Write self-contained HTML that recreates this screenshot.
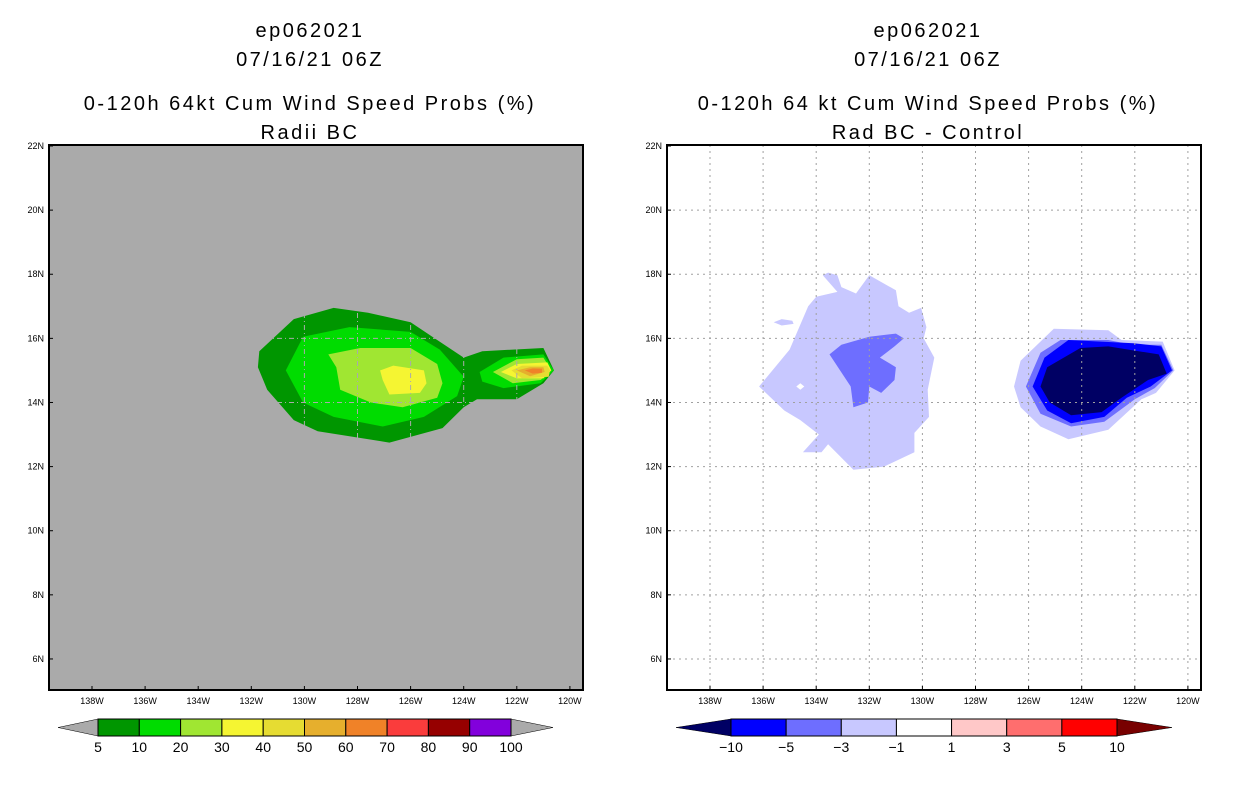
<!DOCTYPE html>
<html><head><meta charset="utf-8"><style>
body{margin:0;background:#fff;width:1236px;height:800px;overflow:hidden}
svg{display:block}
text{font-family:"Liberation Sans",sans-serif}
</style></head><body>
<svg id="chart" width="1236" height="800" viewBox="0 0 1236 800"></svg>
<script>
// ---- data ----
const latTicks=[22,20,18,16,14,12,10,8,6];
const lonTicks=[138,136,134,132,130,128,126,124,122,120];
const leftLevels=['5','10','20','30','40','50','60','70','80','90','100'];
const leftColors=['#009600','#00dc00','#a0e632','#f5f532','#e6dc32','#e6af2d','#f08228','#fa3c3c','#960000','#8200dc'];
const rightLevels=['\u221210','\u22125','\u22123','\u22121','1','3','5','10'];
const rightColors=['#000064','#0000ff','#6e6eff','#c8c8ff','#ffffff','#ffc8c8','#ff6e6e','#ff0000','#780000'];
// left contour polygons [lonW, lat]
const lOuter=[[131.7,15.6],[130.4,16.6],[128.9,16.95],[127.6,16.8],[126.0,16.5],[125.0,15.95],[124.0,15.4],[123.3,15.6],[121.0,15.7],[120.6,15.0],[121.0,14.6],[122.0,14.1],[123.5,14.1],[124.0,13.85],[124.8,13.2],[126.8,12.75],[129.5,13.1],[130.4,13.45],[131.4,14.4],[131.75,15.1]];
const lTen=[[130.7,15.0],[130.05,16.05],[128.3,16.35],[126.0,16.2],[124.9,15.65],[124.0,14.8],[124.25,14.2],[125.5,13.55],[127.05,13.25],[128.9,13.55],[130.05,14.0]];
const lTenLobe=[[123.4,14.95],[122.5,15.4],[121.0,15.5],[120.6,15.0],[121.1,14.6],[122.5,14.45],[123.3,14.65]];
const lTwenty=[[129.1,15.5],[127.9,15.7],[126.0,15.7],[125.0,15.2],[124.8,14.6],[125.0,14.15],[126.3,13.85],[127.5,14.0],[128.65,14.4],[128.8,15.1]];
const lTwentyLobe=[[122.9,14.95],[122.0,15.35],[121.0,15.4],[120.7,15.0],[121.1,14.7],[122.15,14.6]];
const lThirty=[[127.15,15.0],[126.65,15.15],[125.5,15.0],[125.4,14.6],[125.65,14.3],[126.8,14.25],[127.05,14.7]];
const lThirtyLobe=[[122.6,14.95],[122.0,15.2],[120.85,15.25],[120.7,15.0],[121.0,14.75],[122.0,14.75]];
const lFortyLobe=[[122.2,15.0],[121.8,15.15],[120.85,15.15],[120.75,15.0],[120.8,14.8],[121.8,14.75]];
const lFiftyLobe=[[122.0,15.0],[121.5,15.1],[121.0,15.1],[120.95,14.95],[121.5,14.82]];
const lSixtyLobe=[[121.7,15.0],[121.4,15.06],[121.05,15.05],[121.05,14.93],[121.4,14.9]];
// right contour polygons
const rWest=[[136.15,14.5],[135.0,15.65],[134.3,17.0],[134.0,17.3],[133.2,17.45],[133.75,17.97],[133.55,18.05],[133.2,17.97],[133.05,17.6],[132.5,17.4],[132.0,17.97],[131.0,17.5],[130.9,17.0],[130.5,16.8],[130.05,16.95],[129.85,16.35],[129.95,16.0],[129.55,15.4],[129.8,14.4],[129.75,13.55],[130.3,13.05],[130.3,12.45],[131.45,12.0],[132.6,11.9],[133.55,12.7],[133.8,12.45],[134.5,12.45],[133.9,13.0],[134.6,13.45],[135.2,13.75]];
const rIsland=[[135.6,16.5],[135.3,16.6],[134.9,16.55],[134.85,16.45],[135.3,16.4]];
const rHole=[[134.75,14.5],[134.6,14.6],[134.45,14.5],[134.6,14.4]];
const rWestMid=[[133.5,15.5],[133.05,15.8],[132.0,16.05],[131.0,16.15],[130.7,16.0],[131.05,15.75],[131.6,15.4],[131.0,15.1],[131.05,14.7],[131.55,14.3],[132.0,14.5],[132.05,14.0],[132.6,13.85],[132.7,14.5]];
const rEast1=[[126.55,14.5],[126.3,15.3],[125.05,16.3],[123.0,16.25],[122.5,15.95],[120.95,15.9],[120.5,15.0],[121.2,14.3],[121.75,14.1],[123.0,13.15],[124.5,12.85],[125.55,13.25],[126.3,13.85]];
const rEast2=[[126.1,14.5],[125.55,15.55],[124.8,15.95],[123.0,15.95],[122.1,15.8],[121.0,15.8],[120.55,15.0],[121.25,14.45],[122.0,14.1],[123.15,13.4],[124.4,13.25],[125.55,13.65]];
const rEast3=[[125.85,14.5],[125.4,15.4],[124.5,15.95],[122.05,15.85],[121.0,15.75],[120.6,15.0],[121.4,14.5],[122.3,14.15],[123.15,13.55],[124.4,13.35],[125.3,13.75]];
const rEast4=[[125.55,14.5],[125.3,15.1],[124.05,15.7],[123.0,15.75],[121.1,15.5],[120.8,14.9],[121.5,14.7],[122.5,14.15],[123.25,13.7],[124.4,13.6],[125.2,14.0]];

// ---- drawing ----
const NS='http://www.w3.org/2000/svg';
const svg=document.getElementById('chart');
function mk(tag,attrs,parent){const e=document.createElementNS(NS,tag);for(const k in attrs)e.setAttribute(k,attrs[k]);(parent||svg).appendChild(e);return e;}
function makeAxes(x0){return {x:lon=>x0+43+(138-lon)*26.55, y:lat=>146+(22-lat)*32.06};}
function poly(ax,pts,fill,name,g){
  const p=mk('polygon',{points:pts.map(q=>ax.x(q[0]).toFixed(1)+','+ax.y(q[1]).toFixed(1)).join(' '),fill:fill},g);
  
  
}
function txt(x,y,s,size,anchor,name,g){
  const t=mk('text',{x:x,y:y,'font-size':size,'text-anchor':anchor||'middle',fill:'#000'},g);
  t.textContent=s;
  
  
  return t;
}
function panel(x0,bg,titles,name){
  const g=mk('g',{});
  
  
  const cx=x0+261;
  const names=['storm-id','date-title','plot-title','plot-subtitle'];
  const ys=[37,66,110,139];
  titles.forEach((s,i)=>{txt(cx,ys[i],s,20,'middle',names[i],g).setAttribute('letter-spacing','2.5');});
  const bgr=mk('rect',{x:x0,y:145,width:534,height:545,fill:bg},g);
  
  
  return g;
}
function gridAndAxes(x0,ax,gridColor,dash,g){
  const gg=mk('g',{},g);
  
  
  latTicks.forEach(l=>{const y=ax.y(l);if(y>146&&y<690)mk('line',{x1:x0,x2:x0+534,y1:y,y2:y,stroke:gridColor,'stroke-dasharray':dash},gg);});
  lonTicks.forEach(l=>{const x=ax.x(l);mk('line',{x1:x,x2:x,y1:145,y2:690,stroke:gridColor,'stroke-dasharray':dash},gg);});
  const fr=mk('rect',{x:x0,y:145,width:534,height:545,fill:'none',stroke:'#000','stroke-width':2},g);
  
  
  latTicks.forEach(l=>{const y=ax.y(l);txt(x0-5,y+3,l+'N',9,'end','lat-tick-label',g);mk('line',{x1:x0,x2:x0+4,y1:y,y2:y,stroke:'#000'},g);});
  lonTicks.forEach(l=>{const x=ax.x(l);txt(x,704,l+'W',9,'middle','lon-tick-label',g);mk('line',{x1:x,x2:x,y1:686,y2:690,stroke:'#000'},g);});
}
function colorbar(xTipL,xStart,xEnd,xTipR,colors,labels,leftTip,rightTip,name){
  const g=mk('g',{});
  
  
  const y0=719,y1=736,ym=727.5;
  const t1=mk('polygon',{points:`${xTipL},${ym} ${xStart},${y0} ${xStart},${y1}`,fill:leftTip,stroke:'#000','stroke-width':0.5},g);
  
  const t2=mk('polygon',{points:`${xTipR},${ym} ${xEnd},${y0} ${xEnd},${y1}`,fill:rightTip,stroke:'#000','stroke-width':0.5},g);
  
  const n=colors.length,w=(xEnd-xStart)/n;
  colors.forEach((c,i)=>{const r=mk('rect',{x:xStart+i*w,y:y0,width:w,height:y1-y0,fill:c,stroke:'#000','stroke-width':1},g);
    });
  labels.forEach((s,i)=>txt(xStart+i*w,752,s,14,'middle','colorbar-label',g));
}
// left panel
const axL=makeAxes(49);
const gL=panel(49,'#aaaaaa',['ep062021','07/16/21 06Z','0-120h 64kt Cum Wind Speed Probs (%)','Radii BC'],'left-panel');
poly(axL,lOuter,leftColors[0],'contour-5-10',gL);
poly(axL,lTen,leftColors[1],'contour-10-20',gL);
poly(axL,lTenLobe,leftColors[1],'contour-10-20-east',gL);
poly(axL,lTwenty,leftColors[2],'contour-20-30',gL);
poly(axL,lTwentyLobe,leftColors[2],'contour-20-30-east',gL);
poly(axL,lThirty,leftColors[3],'contour-30-40',gL);
poly(axL,lThirtyLobe,leftColors[3],'contour-30-40-east',gL);
poly(axL,lFortyLobe,leftColors[4],'contour-40-50',gL);
poly(axL,lFiftyLobe,leftColors[5],'contour-50-60',gL);
poly(axL,lSixtyLobe,leftColors[6],'contour-60-70',gL);
gridAndAxes(49,axL,'#aaaaaa','5,3,1,3',gL);
colorbar(58,98,511,553,leftColors,leftLevels,'#aaaaaa','#aaaaaa','left-colorbar');
// right panel
const axR=makeAxes(667);
const gR=panel(667,'#ffffff',['ep062021','07/16/21 06Z','0-120h 64 kt Cum Wind Speed Probs (%)','Rad BC - Control'],'right-panel');
poly(axR,rWest,rightColors[3],'diff-west-light',gR);
poly(axR,rIsland,rightColors[3],'diff-west-island',gR);
poly(axR,rHole,'#ffffff','diff-west-hole',gR);
poly(axR,rWestMid,rightColors[2],'diff-west-mid',gR);
poly(axR,rEast1,rightColors[3],'diff-east-light',gR);
poly(axR,rEast2,rightColors[2],'diff-east-mid',gR);
poly(axR,rEast3,rightColors[1],'diff-east-blue',gR);
poly(axR,rEast4,rightColors[0],'diff-east-navy',gR);
gridAndAxes(667,axR,'#a0a0a0','2,4',gR);
colorbar(676,731,1117,1172,rightColors.slice(1,8),rightLevels,rightColors[0],rightColors[8],'right-colorbar');
</script>
</body></html>
